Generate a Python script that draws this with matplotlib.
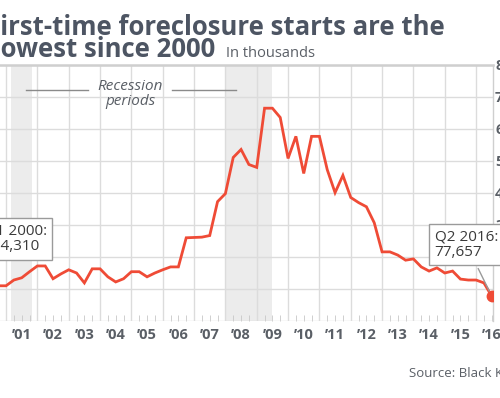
#!/usr/bin/env python3

import matplotlib
matplotlib.use("Agg")
import matplotlib.pyplot as plt
from matplotlib.ticker import FixedLocator, FuncFormatter, MultipleLocator

# Quarterly first-time foreclosure starts, in thousands (Q1 2000 .. Q2 2016)
QUARTERS = [f"{y}Q{q}" for y in range(2000, 2017) for q in range(1, 5)][:66]
STARTS = [
    114.31, 112, 110, 110,
    128, 135, 154, 172,
    172, 132, 147, 160,
    150, 119, 163, 163,
    138, 122, 132, 154,
    154, 138, 150, 160,
    169, 169, 260, 261,
    262, 267, 373, 398,
    511, 536, 489, 480,
    665, 665, 636, 508,
    577, 461, 577, 577,
    473, 401, 455, 386,
    370, 357, 307, 216,
    216, 206, 190, 194,
    169, 156, 166, 150,
    156, 131, 128, 128,
    119, 77.657,
]
RECESSIONS = [(2001 + 2 / 12, 2001 + 10 / 12), (2008.0, 2009.5)]
YEARS = list(range(2000, 2017))
Y_TICKS = [200, 300, 400, 500, 600, 700, 800]

LINE_COLOR = "#ef4b36"
TITLE_COLOR = "#4d5563"
GRID_COLOR = "#dcdcdc"
TEXT_GRAY = "#5a5f66"

plt.rcParams["font.family"] = ["Open Sans", "DejaVu Sans"]


def quarter_end(label):
    year, q = label.split("Q")
    return int(year) + int(q) / 4


def main():
    x = [quarter_end(q) for q in QUARTERS]

    fig = plt.figure(figsize=(5.0, 3.98), dpi=100)
    # axes deliberately runs past the left edge (picture is cropped there)
    ax = fig.add_axes([-0.0506, 0.1935, 1.0366, 0.6432])

    for start, end in RECESSIONS:
        ax.axvspan(start, end, color="#ececec", lw=0, zorder=0.2)

    ax.plot(x, STARTS, color=LINE_COLOR, lw=2.0, zorder=3, solid_joinstyle="miter")
    ax.plot(x[-1], STARTS[-1], "o", color=LINE_COLOR, ms=7.5, zorder=4)

    ax.set_xlim(2000.0, 2016.54)
    ax.set_ylim(0, 800)

    # gridlines at year boundaries, labels centred in each year
    ax.xaxis.set_major_locator(FixedLocator(YEARS))
    ax.xaxis.set_major_formatter(FuncFormatter(lambda v, p: ""))
    minor = [y + f for y in YEARS for f in (0.25, 0.5, 0.75)]
    ax.xaxis.set_minor_locator(FixedLocator(minor))
    ax.xaxis.set_minor_formatter(
        FuncFormatter(lambda v, p: f"\u2019{int(v) % 100:02d}" if abs(v % 1 - 0.5) < 0.01 else "")
    )
    ax.tick_params(axis="x", which="major", length=0)
    ax.tick_params(axis="x", which="minor", direction="in", length=4, color="#c8c8c8",
                   labelsize=10.5, labelcolor=TEXT_GRAY, pad=5)
    for lbl in ax.get_xticklabels(minor=True):
        lbl.set_fontweight("bold")

    ax.yaxis.set_major_locator(FixedLocator(Y_TICKS))
    ax.yaxis.set_minor_locator(MultipleLocator(100))
    ax.yaxis.tick_right()
    ax.tick_params(axis="y", which="both", length=0, labelsize=10.5, labelcolor=TEXT_GRAY, pad=1.5)
    for lbl in ax.get_yticklabels():
        lbl.set_fontweight("bold")

    ax.set_axisbelow(True)
    ax.grid(True, which="major", axis="x", color=GRID_COLOR, lw=1.0)
    ax.grid(True, which="both", axis="y", color=GRID_COLOR, lw=1.0)

    for side in ["left", "bottom"]:
        ax.spines[side].set_visible(False)
    ax.spines["top"].set_color("#cfcfcf")
    ax.spines["top"].set_linewidth(1.8)
    ax.spines["right"].set_color("#cfcfcf")
    ax.spines["right"].set_linewidth(1.0)

    # recession legend
    ax.text(2004.96, 709, "Recession\nperiods", ha="center", va="center", style="italic",
            fontsize=11, color=TEXT_GRAY, linespacing=0.95)
    ax.plot([2001.64, 2003.62], [722, 722], color="#8a8a8a", lw=1.0)
    ax.plot([2006.3, 2008.34], [722, 722], color="#8a8a8a", lw=1.0)

    box = dict(boxstyle="square,pad=0.35", fc="white", ec="#9a9a9a", lw=1.0)
    ax.annotate("Q1 2000:\n114,310", xy=(x[0], STARTS[0]), xytext=(1, 30),
                textcoords="offset pixels", ha="left", va="bottom", fontsize=11,
                color="#3a3a3a", bbox=box, linespacing=1.1, zorder=6,
                arrowprops=dict(arrowstyle="-", color="#9a9a9a", lw=1.0))
    ax.annotate("Q2 2016:\n77,657", xy=(x[-1], STARTS[-1]), xytext=(-57, 36),
                textcoords="offset pixels", ha="left", va="bottom", fontsize=11,
                color="#3a3a3a", bbox=box, linespacing=1.1, zorder=6,
                arrowprops=dict(arrowstyle="-", color="#9a9a9a", lw=1.0, shrinkB=4))

    fig.text(-0.028, 0.912, "First-time foreclosure starts are the", fontsize=18.5,
             fontweight="bold", color=TITLE_COLOR, ha="left", va="baseline")
    fig.text(-0.028, 0.857, "Lowest since 2000", fontsize=18.5, fontweight="bold",
             color=TITLE_COLOR, ha="left", va="baseline")
    fig.text(0.452, 0.857, "In thousands", fontsize=10.5, color=TEXT_GRAY,
             ha="left", va="baseline")
    fig.text(0.818, 0.053, "Source: Black Knight", fontsize=9.5, color=TEXT_GRAY,
             ha="left", va="baseline")

    fig.savefig("out.png", dpi=100)
    plt.close(fig)


if __name__ == "__main__":
    main()
